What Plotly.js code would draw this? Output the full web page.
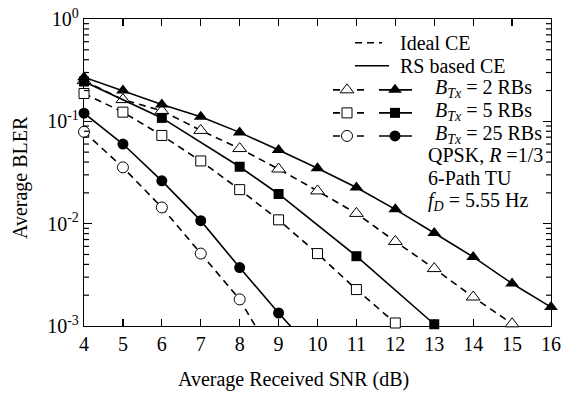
<!DOCTYPE html>
<html>
<head>
<meta charset="utf-8">
<script src="https://cdn.plot.ly/plotly-3.0.1.min.js"></script>
<style>html,body{margin:0;padding:0;background:#fff;}#chart{width:563px;height:394px;}</style>
</head>
<body>
<div id="chart"></div>
<script>
// ---- data ----
const snrTri = [4, 5, 6, 7, 8, 9, 10, 11, 12, 13, 14, 15, 16];
const ideal2 = [0.25, 0.163, 0.127, 0.0815, 0.0542, 0.0342, 0.0209, 0.0126, 0.0067, 0.00364, 0.00192, 0.00105];
const rs2 = [0.27, 0.2, 0.146, 0.111, 0.078, 0.0525, 0.0348, 0.0226, 0.0138, 0.0081, 0.00473, 0.0026, 0.00153];
const snrIdeal5 = [4, 5, 6, 7, 8, 9, 10, 11, 12];
const ideal5 = [0.187, 0.123, 0.0728, 0.041, 0.0215, 0.0109, 0.0051, 0.00227, 0.00107];
const snrRs5 = [4, 6, 8, 9, 11, 13];
const rs5 = [0.245, 0.108, 0.036, 0.0195, 0.00481, 0.00104];
const snrIdeal25 = [4, 5, 6, 7, 8, 9];
const ideal25 = [0.079, 0.0355, 0.0144, 0.0051, 0.00182, 0.00041];
const snrRs25 = [4, 5, 6, 7, 8, 9, 10];
const rs25 = [0.12, 0.06, 0.0262, 0.0107, 0.00372, 0.00134, 0.00051];

const xTicks = [4, 5, 6, 7, 8, 9, 10, 11, 12, 13, 14, 15, 16];
const yTickVals = [0.001, 0.01, 0.1, 1];
const yTickText = ['10<sup>-3</sup>', '10<sup>-2</sup>', '10<sup>-1</sup>', '10<sup>0</sup>'];
const yMinorMantissa = [2, 3, 4, 5, 6, 7, 8, 9];
const yMinorDecades = [0.001, 0.01, 0.1];

const FONT = 'Liberation Serif, Times New Roman, serif';
const DASH = '7px,5px';
const LW = 1.6;

const series = [
  {x: snrTri, y: ideal2, dash: DASH, symbol: 'triangle-up', open: true, size: 12},
  {x: snrTri, y: rs2, dash: 'solid', symbol: 'triangle-up', open: false, size: 12},
  {x: snrIdeal5, y: ideal5, dash: DASH, symbol: 'square', open: true, size: 10},
  {x: snrRs5, y: rs5, dash: 'solid', symbol: 'square', open: false, size: 10},
  {x: snrIdeal25, y: ideal25, dash: DASH, symbol: 'circle', open: true, size: 11},
  {x: snrRs25, y: rs25, dash: 'solid', symbol: 'circle', open: false, size: 11}
];

const traces = [];

// ---- minor log ticks on the left and right frame: x in frame fraction (x2), y on the log axis ----
const minorLen = 5 / 467;
const mtx = [], mty = [];
yMinorDecades.forEach(d => yMinorMantissa.forEach(m => {
  const v = m * d;
  mtx.push(0, minorLen, null, 1 - minorLen, 1, null);
  mty.push(v, v, null, v, v, null);
}));
traces.push({x: mtx, y: mty, xaxis: 'x2', yaxis: 'y', mode: 'lines', type: 'scatter', connectgaps: false,
  line: {color: 'black', width: 1.2}, showlegend: false, hoverinfo: 'skip'});

series.forEach(s => {
  traces.push({x: s.x.slice(0, s.y.length), y: s.y, mode: 'lines', type: 'scatter',
    line: {color: 'black', width: LW, dash: s.dash}, hoverinfo: 'skip', showlegend: false});
  const mx = [], my = [];
  s.y.forEach((v, i) => { if (v >= 0.00099) { mx.push(s.x[i]); my.push(v); } });
  traces.push({x: mx, y: my, mode: 'markers', type: 'scatter', cliponaxis: false,
    marker: {symbol: s.symbol, size: s.size, color: s.open ? 'white' : 'black',
      line: {color: 'black', width: s.open ? 1 : 0}}, showlegend: false});
});

// ---- legend samples on an overlay paper-like axis ----
const px = v => (v - 84) / 467;
const py = v => (325.7 - v) / 306.4;
function legLine(x0, x1, y, dash) {
  traces.push({x: [px(x0), px(x1)], y: [py(y), py(y)], xaxis: 'x2', yaxis: 'y2', mode: 'lines',
    type: 'scatter', line: {color: 'black', width: LW, dash: dash}, showlegend: false, hoverinfo: 'skip', cliponaxis: false});
}
function legMark(x, y, symbol, open, size) {
  traces.push({x: [px(x)], y: [py(y)], xaxis: 'x2', yaxis: 'y2', mode: 'markers', type: 'scatter', cliponaxis: false,
    marker: {symbol: symbol, size: size, color: open ? 'white' : 'black', line: {color: 'black', width: open ? 1 : 0}},
    showlegend: false, hoverinfo: 'skip'});
}
legLine(355, 382, 43, DASH);
legLine(355, 389, 66, 'solid');
const rows = [[90, 'triangle-up', 12], [113, 'square', 10], [136, 'circle', 11]];
rows.forEach(r => {
  legLine(333, 368, r[0], DASH);
  legMark(347, r[0], r[1], true, r[2]);
  legLine(379, 412, r[0], 'solid');
  legMark(395, r[0], r[1], false, r[2]);
});

const annFont = {family: FONT, size: 20, color: 'black'};
const ann = (x, y, text, extra) => Object.assign({xref: 'paper', yref: 'paper', x: px(x), y: py(y), text: text,
  showarrow: false, xanchor: 'left', yanchor: 'middle', font: annFont}, extra || {});

const layout = {
  width: 563, height: 394,
  margin: {l: 84, r: 12, t: 19.3, b: 68.3},
  paper_bgcolor: 'white', plot_bgcolor: 'white',
  showlegend: false,
  font: {family: FONT, size: 20, color: 'black'},
  xaxis: {range: [4, 16], tickvals: xTicks, ticks: 'inside', ticklen: 7, tickwidth: 1.2, tickcolor: 'black',
    showline: true, linecolor: 'black', linewidth: 1.2, mirror: 'ticks', showgrid: false, zeroline: false,
    tickfont: {family: FONT, size: 20}, layer: 'below traces'},
  yaxis: {type: 'log', range: [-3, 0], tickmode: 'array', tickvals: yTickVals, ticktext: yTickText, ticks: 'inside', ticklen: 8,
    tickwidth: 1.2, tickcolor: 'black', showline: true, linecolor: 'black', linewidth: 1.2, mirror: 'ticks',
    showgrid: false, zeroline: false, tickfont: {family: FONT, size: 20}, layer: 'below traces'},
  xaxis2: {overlaying: 'x', range: [0, 1], visible: false, fixedrange: true},
  yaxis2: {overlaying: 'y', range: [0, 1], visible: false, fixedrange: true},
  annotations: [
    ann(398, 43, 'Ideal CE'),
    ann(398, 66, 'RS based CE'),
    ann(433, 89, '<i>B</i><sub><i>Tx</i></sub> = 2 RBs'),
    ann(433, 112, '<i>B</i><sub><i>Tx</i></sub> = 5 RBs'),
    ann(433, 135, '<i>B</i><sub><i>Tx</i></sub> = 25 RBs'),
    ann(426, 155, 'QPSK, <i>R</i> =1/3'),
    ann(426, 178, '6-Path TU'),
    ann(426, 201, '<i>f</i><sub><i>D</i></sub> = 5.55 Hz'),
    ann(293.5, 379, 'Average Received SNR (dB)', {xanchor: 'center'}),
    ann(20, 178, 'Average BLER', {xanchor: 'center', textangle: -90})
  ]
};

Plotly.newPlot('chart', traces, layout, {displayModeBar: false, staticPlot: true});
</script>
</body>
</html>
